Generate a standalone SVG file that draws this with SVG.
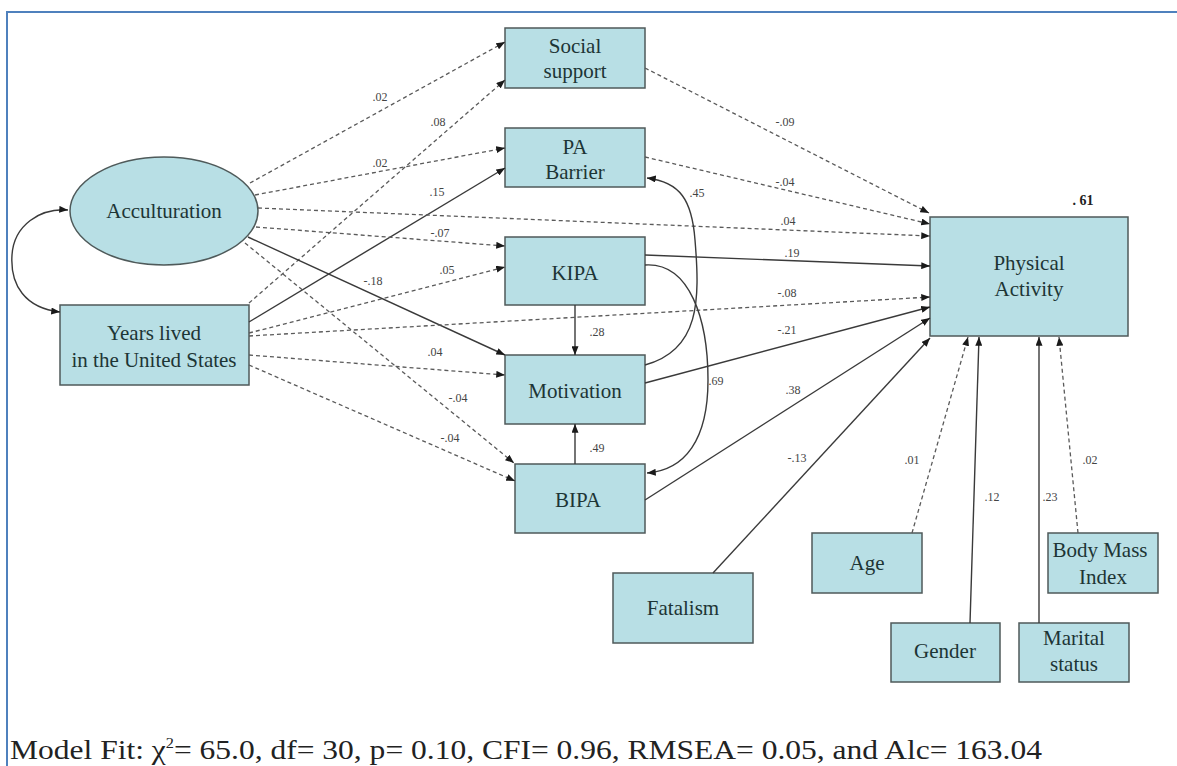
<svg xmlns="http://www.w3.org/2000/svg" width="1177" height="766" viewBox="0 0 1177 766">
<defs>
<marker id="ah" viewBox="0 0 10 8" refX="10" refY="4" markerWidth="9" markerHeight="7" markerUnits="userSpaceOnUse" orient="auto-start-reverse"><path d="M0,0 L10,4 L0,8 z" fill="#1a1a1a"/></marker>
</defs>
<style>
.node rect, .node ellipse {fill:#b8dfe5; stroke:#4f5a5a; stroke-width:1.5}
.node text {font-family:"Liberation Serif", serif; font-size:21px; fill:#1d3535; text-anchor:middle}
.c {fill:none; stroke:#3a3a3a; stroke-width:1.4; marker-end:url(#ah)}
.d {stroke-dasharray:4 3; stroke:#5a5a5a; stroke-width:1.3}
.lbl {font-family:"Liberation Serif", serif; font-size:12px; fill:#444; text-anchor:middle}
</style>
<rect width="1177" height="766" fill="#ffffff"/>
<path d="M7,766 V12 H1177" stroke="#4f81bd" stroke-width="2" fill="none"/>

<g id="nodes">
<g id="acculturation" class="node"><ellipse cx="164" cy="211" rx="94" ry="54"/><text x="164" y="218">Acculturation</text></g>
<g id="years" class="node"><rect x="60" y="305" width="189" height="80"/><text x="154" y="340">Years lived</text><text x="154" y="367">in the United States</text></g>
<g id="social" class="node"><rect x="505" y="28" width="140" height="60"/><text x="575" y="53">Social</text><text x="575" y="78">support</text></g>
<g id="pabarrier" class="node"><rect x="505" y="128" width="140" height="59"/><text x="575" y="154">PA</text><text x="575" y="179">Barrier</text></g>
<g id="kipa" class="node"><rect x="505" y="237" width="140" height="68"/><text x="575" y="280">KIPA</text></g>
<g id="motivation" class="node"><rect x="505" y="355" width="140" height="69"/><text x="575" y="398">Motivation</text></g>
<g id="bipa" class="node"><rect x="515" y="464" width="130" height="69"/><text x="578" y="507">BIPA</text></g>
<g id="fatalism" class="node"><rect x="613" y="573" width="140" height="70"/><text x="683" y="615">Fatalism</text></g>
<g id="pa" class="node"><rect x="930" y="217" width="198" height="119"/><text x="1029" y="270">Physical</text><text x="1029" y="296">Activity</text></g>
<g id="age" class="node"><rect x="812" y="533" width="110" height="60"/><text x="867" y="570">Age</text></g>
<g id="bmi" class="node"><rect x="1048" y="533" width="110" height="60"/><text x="1100" y="557">Body Mass</text><text x="1103" y="584">Index</text></g>
<g id="gender" class="node"><rect x="891" y="623" width="109" height="59"/><text x="945" y="658">Gender</text></g>
<g id="marital" class="node"><rect x="1019" y="623" width="110" height="59"/><text x="1074" y="645">Marital</text><text x="1074" y="671">status</text></g>
</g>

<g id="connectors">
<path class="c d" d="M250,183 L505,42"/>
<path class="c d" d="M249,303 L505,80"/>
<path class="c d" d="M255,195 L505,148"/>
<path class="c" d="M249,322 L505,168"/>
<path class="c d" d="M258,208 L930,236"/>
<path class="c d" d="M256,227 L505,246"/>
<path class="c d" d="M249,333 L505,267"/>
<path class="c" d="M248,237 L505,355"/>
<path class="c d" d="M249,336 L930,297"/>
<path class="c d" d="M249,355 L505,375"/>
<path class="c d" d="M245,243 L514,463"/>
<path class="c d" d="M249,365 L515,481"/>
<path class="c d" d="M645,68 L929,213"/>
<path class="c d" d="M645,157 L930,224"/>
<path class="c" d="M645,255 L930,266"/>
<path class="c" d="M645,383 L930,307"/>
<path class="c" d="M645,500 L930,318"/>
<path class="c" d="M713,573 L930,338"/>
<path class="c d" d="M912,533 L968,337"/>
<path class="c" d="M970,623 L979,337"/>
<path class="c" d="M1039,623 L1039,337"/>
<path class="c d" d="M1078,533 L1059,337"/>
<path class="c" d="M575,305 L575,355"/>
<path class="c" d="M575,464 L575,424"/>
<path class="c" d="M645,365 C700,350 700,300 695,240 C692,200 680,182 647,178"/>
<path class="c" d="M645,265 C690,262 708,320 708,380 C708,440 685,470 647,473"/>
<path class="c" style="marker-start:url(#ah)" d="M60,312 C25,308 10,285 12,255 C14,225 40,208 68,210"/>

<text class="lbl" x="380" y="101">.02</text>
<text class="lbl" x="438" y="126">.08</text>
<text class="lbl" x="380" y="167">.02</text>
<text class="lbl" x="437" y="196">.15</text>
<text class="lbl" x="440" y="237">-.07</text>
<text class="lbl" x="373" y="285">-.18</text>
<text class="lbl" x="447" y="274">.05</text>
<text class="lbl" x="435" y="356">.04</text>
<text class="lbl" x="458" y="402">-.04</text>
<text class="lbl" x="450" y="442">-.04</text>
<text class="lbl" x="785" y="126">-.09</text>
<text class="lbl" x="785" y="186">-.04</text>
<text class="lbl" x="788" y="225">.04</text>
<text class="lbl" x="792" y="257">.19</text>
<text class="lbl" x="787" y="297">-.08</text>
<text class="lbl" x="787" y="334">-.21</text>
<text class="lbl" x="793" y="394">.38</text>
<text class="lbl" x="797" y="462">-.13</text>
<text class="lbl" x="912" y="464">.01</text>
<text class="lbl" x="992" y="501">.12</text>
<text class="lbl" x="1050" y="501">.23</text>
<text class="lbl" x="1090" y="464">.02</text>
<text class="lbl" x="697" y="197">.45</text>
<text class="lbl" x="716" y="385">.69</text>
<text class="lbl" x="597" y="336">.28</text>
<text class="lbl" x="597" y="452">.49</text>
<text class="lbl" x="1083" y="205" style="font-size:14px;font-weight:bold;fill:#222">. 61</text>
</g>

<text x="10" y="759" font-family="Liberation Serif, serif" font-size="27" fill="#222" textLength="1032" lengthAdjust="spacingAndGlyphs">Model Fit: χ<tspan font-size="14" dy="-11">2</tspan><tspan dy="11">= 65.0, df= 30, p= 0.10, CFI= 0.96, RMSEA= 0.05, and Alc= 163.04</tspan></text>
</svg>
